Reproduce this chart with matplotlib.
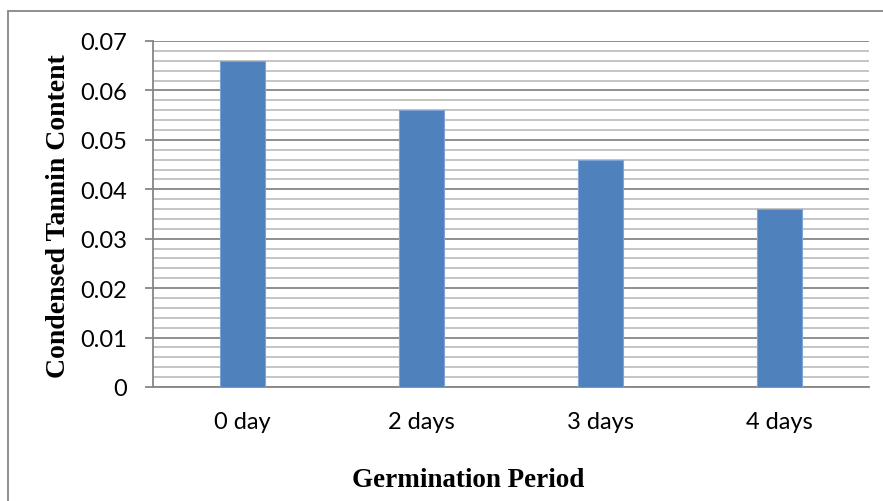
import matplotlib
matplotlib.use("Agg")
import matplotlib.pyplot as plt
from matplotlib.patches import Rectangle
from matplotlib.ticker import MultipleLocator

categories = ["0 day", "2 days", "3 days", "4 days"]
values = [0.066, 0.056, 0.046, 0.036]
yticks = [0, 0.01, 0.02, 0.03, 0.04, 0.05, 0.06, 0.07]
ytick_labels = ["0", "0.01", "0.02", "0.03", "0.04", "0.05", "0.06", "0.07"]

W, H = 883, 502
fig = plt.figure(figsize=(W / 100, H / 100), dpi=100)
ax = fig.add_axes([153 / W, 1 - 388 / H, (869 - 153) / W, (388 - 42) / H])

x = list(range(len(categories)))
ax.bar(x, values, width=0.25, color="#4F81BD", edgecolor="#7FA3D3", linewidth=0.8, zorder=3)
ax.set_xlim(-0.5, len(categories) - 0.5)
ax.set_ylim(0, 0.07)
ax.set_yticks(yticks)
ax.set_yticklabels(ytick_labels)
ax.yaxis.set_minor_locator(MultipleLocator(0.002))
ax.set_xticks(x)
ax.set_xticklabels(categories)

ax.grid(which="major", axis="y", color="#868686", linewidth=1.3, zorder=1)
ax.grid(which="minor", axis="y", color="#BFBFBF", linewidth=1.3, zorder=1)
ax.grid(which="major", axis="x", visible=False)

for s in ["top", "right"]:
    ax.spines[s].set_visible(False)
for s in ["left", "bottom"]:
    ax.spines[s].set_color("#868686")
    ax.spines[s].set_linewidth(1.3)

ax.tick_params(axis="y", which="major", length=5.8, width=1.3, color="#868686", pad=13,
               labelsize=17, labelcolor="black")
ax.tick_params(axis="y", which="minor", length=0)
ax.tick_params(axis="x", length=0, pad=17, labelsize=17, labelcolor="black")
for lab in ax.get_xticklabels() + ax.get_yticklabels():
    lab.set_family(["Lato", "DejaVu Sans"])

fig.text(58.5 / W, 1 - 216 / H, "Condensed Tannin Content", rotation=90, ha="center", va="center",
         fontsize=20, fontweight="bold", family=["Liberation Serif", "DejaVu Serif"])
fig.text(468 / W, 1 - 487 / H, "Germination Period", ha="center", va="baseline",
         fontsize=19.5, fontweight="bold", family=["Liberation Serif", "DejaVu Serif"])

fig.patches.append(Rectangle((8 / W, -0.05), 1.1, 1 - 12 / H + 0.05, transform=fig.transFigure,
                             fill=False, edgecolor="#868686", linewidth=1.3))

fig.savefig("out.png", dpi=100)
